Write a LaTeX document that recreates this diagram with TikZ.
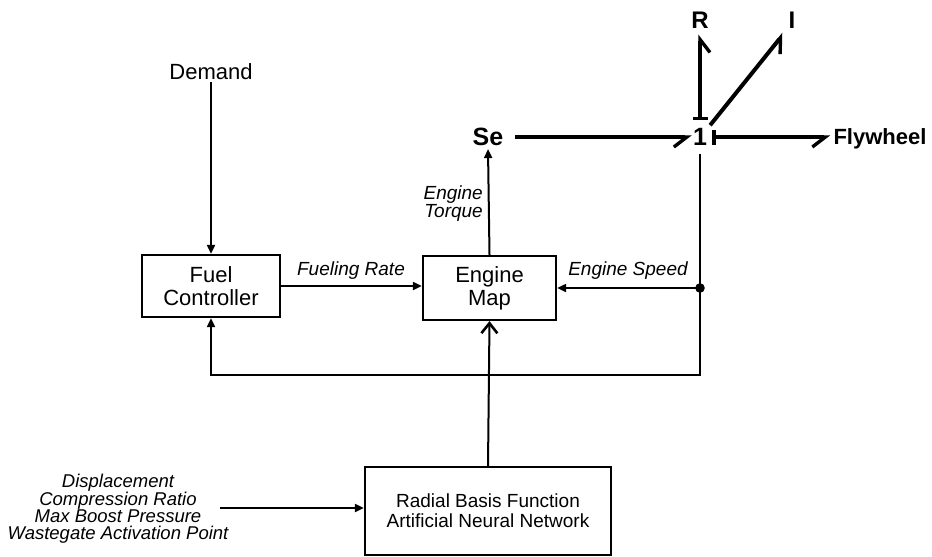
\documentclass[tikz,border=0pt]{standalone}
\usepackage{fontspec}
\setmainfont{Liberation Sans}
\usetikzlibrary{arrows.meta}
\begin{document}
\begin{tikzpicture}[x=1pt,y=-1pt,
  box/.style={draw, line width=2.3pt, inner sep=0pt, align=center, font=\fontsize{22}{23}\selectfont},
  lbl/.style={font=\fontsize{19}{17}\selectfont\itshape, inner sep=0pt, align=center},
  sig/.style={line width=2pt, -{Triangle[length=9pt,width=8pt]}},
  bond/.style={line width=4pt},
  hp/.tip={Straight Barb[right,length=13pt,width=20pt,line width=3.4pt]},
  tee/.tip={Bar[width=15pt,line width=3.4pt]},
  bnd/.style={font=\fontsize{25}{25}\selectfont\bfseries, inner sep=3pt}]
\useasboundingbox (0,0) rectangle (932,557);

% blocks
\node[box, minimum width=138pt, minimum height=62pt] (fc) at (211,286) {Fuel\\Controller};
\node[box, minimum width=133pt, minimum height=64pt] (em) at (489.5,288) {Engine\\Map};
\node[box, minimum width=246pt, minimum height=88pt, font=\fontsize{19}{20}\selectfont] (rbf) at (488,511) {Radial Basis Function\\Artificial Neural Network};

% texts
\node[font=\fontsize{22}{22}\selectfont, inner sep=2pt] (dem) at (211,72) {Demand};
\node[lbl] (fr) at (351,271) {Fueling Rate};
\node[lbl] (es) at (628,271) {Engine Speed};
\node[lbl, anchor=east, align=right] (et) at (483,204) {Engine\\Torque};
\node[lbl, font=\fontsize{18.5}{17}\selectfont\itshape] (inp) at (118,509) {Displacement\\Compression Ratio\\Max Boost Pressure\\Wastegate Activation Point};

% bond graph
\node[bnd] (se) at (488,137) {Se};
\node[bnd] (one) at (700,137) {1};
\node[bnd, font=\fontsize{24}{24}\selectfont\bfseries] (r) at (700,20) {R};
\node[bnd, font=\fontsize{24}{24}\selectfont\bfseries] (i) at (792,20) {I};
\node[bnd, font=\fontsize{22}{22}\selectfont\bfseries] (fw) at (880,139) {Flywheel};

% signals
\draw[sig] (dem.south) -- (dem.south |- fc.north);
\draw[sig] (fc.east) -- (fc.east -| em.west);
\coordinate (dot) at (one.south |- em.east);
\coordinate (cr) at (700,375);
\draw[sig] (dot) -- (em.east);
\fill (dot) circle (4.8pt);
\draw[sig, shorten <=5pt] (one.south) -- (cr) -| (fc.south);
\draw[sig] (em.north) -- (se.south);
\draw[line width=2pt, -{Straight Barb[length=10pt,width=16pt,line width=2.6pt]}] (rbf.north) -- (em.south);
\coordinate (ia) at (220,508);
\draw[sig] (ia) -- (ia -| rbf.west);

% bonds
\draw[bond, -hp, shorten <=9pt, shorten >=-2pt] (se.east) -- (one.west);
\draw[bond, tee-hp, shorten <=5pt, shorten >=3pt] (one.north) -- (r.south);
\draw[bond, -hp, shorten >=3pt] (one.north east) -- (i.south west);
\draw[bond, tee-hp, shorten <=2pt] (one.east) -- (one.east -| fw.west);
\end{tikzpicture}
\end{document}
